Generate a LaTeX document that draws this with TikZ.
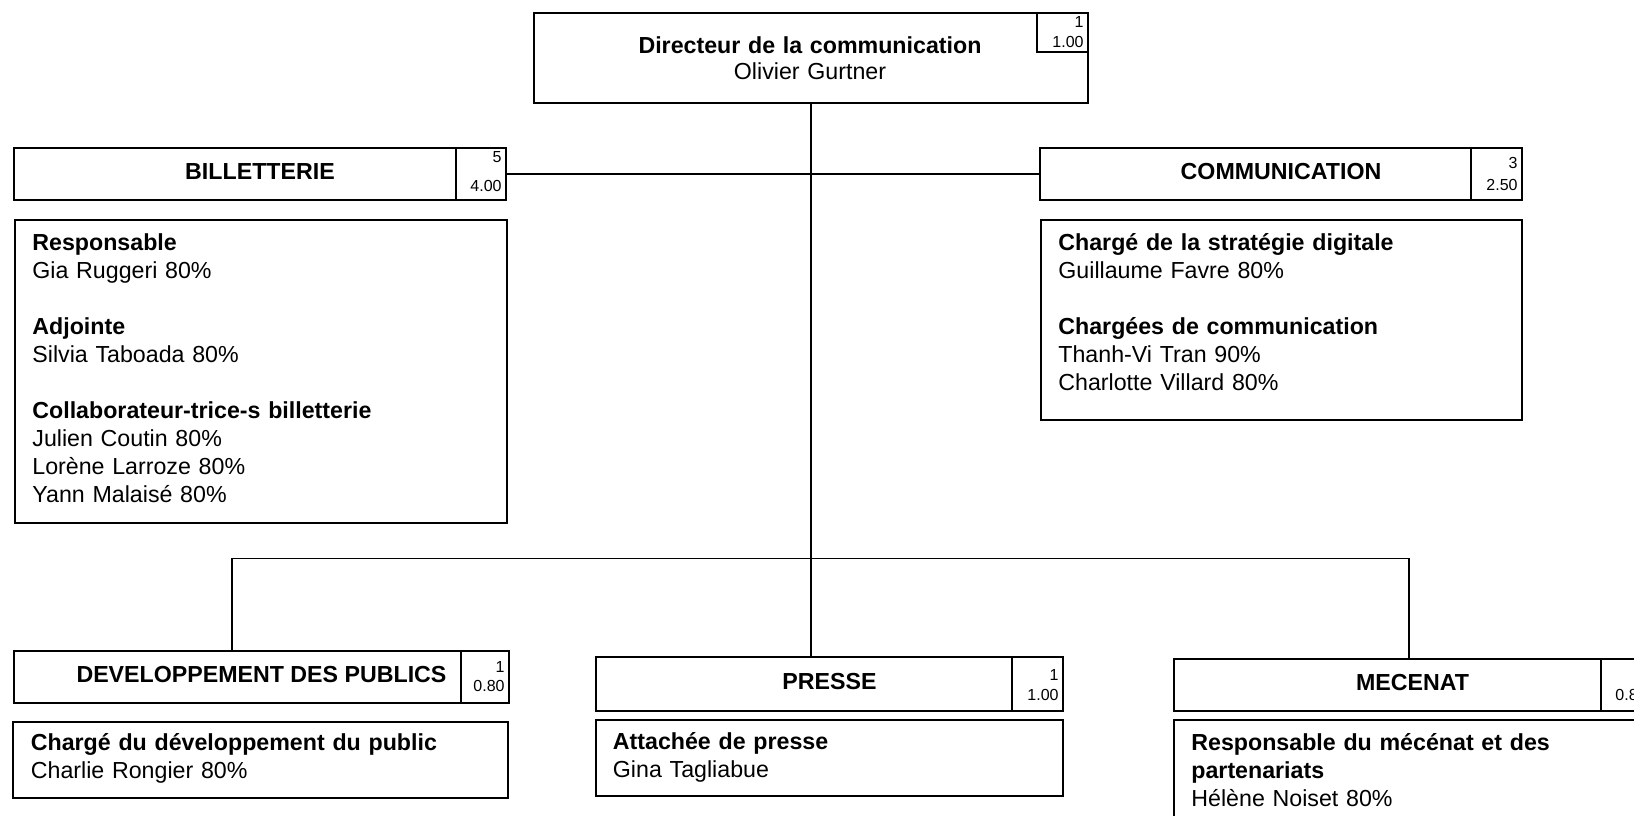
\documentclass[tikz,border=0pt]{standalone}
\usepackage{fontspec}
\setmainfont{Liberation Sans}
\begin{document}
\begin{tikzpicture}[x=0.5pt, y=-0.5pt,
  frame/.style={draw, line width=1pt, anchor=north west, inner sep=0pt},
  head/.style={frame, font=\fontsize{11.6}{14}\selectfont\bfseries, text height=8.5pt, text depth=3pt},
  badge/.style={draw, line width=1pt, anchor=north east, inner sep=0pt},
  num/.style={anchor=base east, inner sep=0pt, font=\fontsize{8}{9}\selectfont},
  body/.style={anchor=base west, inner sep=0pt, align=left, text width=215pt, font=\fontsize{11.6}{14}\selectfont},
  link/.style={line width=0.55pt}]
\useasboundingbox (0,0) rectangle (1634,815);
\clip (0,0) rectangle (1634,815);

\node[frame, minimum width=277pt, minimum height=45pt] (dir) at (533,12) {};
\node[anchor=base, inner sep=0pt, align=center, text width=260pt, font=\fontsize{11.6}{14}\selectfont] (dirT) at (810,53)
  {\textbf{Directeur de la communication}\\[-1pt] Olivier Gurtner};
\node[badge, minimum width=25.5pt, minimum height=19.5pt] (dirN) at (dir.north east) {};

\node[head, minimum width=246pt, minimum height=26pt] (bill) at (13,147) {BILLETTERIE};
\node[badge, minimum width=25pt, minimum height=26pt] (billN) at (bill.north east) {};
\node[head, minimum width=241pt, minimum height=26pt] (comm) at (1039,147) {COMMUNICATION};
\node[badge, minimum width=25.5pt, minimum height=26pt] (commN) at (comm.north east) {};
\node[head, minimum width=247.5pt, minimum height=26pt] (dev) at (13,650) {DEVELOPPEMENT DES PUBLICS};
\node[badge, minimum width=24pt, minimum height=26pt] (devN) at (dev.north east) {};
\node[head, minimum width=233.5pt, minimum height=27pt] (presse) at (595,656) {PRESSE};
\node[badge, minimum width=25.3pt, minimum height=27pt] (presseN) at (presse.north east) {};
\node[head, minimum width=238.5pt, minimum height=26pt] (mec) at (1173,658) {MECENAT};
\node[badge, minimum width=25pt, minimum height=26pt] (mecN) at (mec.north east) {};

\foreach \b/\t/\u/\p/\q in {dirN/1/1.00/15/35, billN/5/4.00/15/44, commN/3/2.50/21/43,
    devN/1/0.80/22/41, presseN/1/1.00/24/44, mecN/1/0.80/22/42}{
  \node[num] (\b-t) at ([shift={(-5,\p)}]\b.north east) {\t};
  \node[num] (\b-u) at ([shift={(-5,\q)}]\b.north east) {\u};
}

\node[frame, minimum width=246pt, minimum height=151.5pt] (billB) at (14,219) {};
\node[body] (billT) at (32,250) {\textbf{Responsable}\\ Gia Ruggeri 80\%\\[14pt]
  \textbf{Adjointe}\\ Silvia Taboada 80\%\\[14pt]
  \textbf{Collaborateur-trice-s billetterie}\\ Julien Coutin 80\%\\ Lorène Larroze 80\%\\ Yann Malaisé 80\%};
\node[frame, minimum width=240.5pt, minimum height=100pt] (commB) at (1040,219) {};
\node[body] (commT) at (1058,250) {\textbf{Chargé de la stratégie digitale}\\ Guillaume Favre 80\%\\[14pt]
  \textbf{Chargées de communication}\\ Thanh-Vi Tran 90\%\\ Charlotte Villard 80\%};
\node[frame, minimum width=247.5pt, minimum height=38pt] (devB) at (12,721) {};
\node[body] (devT) at (30.5,750) {\textbf{Chargé du développement du public}\\ Charlie Rongier 80\%};
\node[frame, minimum width=233.5pt, minimum height=38pt] (presseB) at (595,719) {};
\node[body] (presseT) at (612.5,749) {\textbf{Attachée de presse}\\ Gina Tagliabue};
\node[frame, minimum width=238.5pt, minimum height=65pt] (mecB) at (1173,719) {};
\node[body] (mecT) at (1191,750) {\textbf{Responsable du mécénat et des}\\ \textbf{partenariats}\\ Hélène Noiset 80\%};

\coordinate (fork) at (232,558.6);
\draw[link] (dir.south) -- (dir.south |- presse.north);
\draw[link] (bill.east) -- (comm.west);
\draw[link] (fork |- dev.north) -- (fork) -| (mecN.north -| 1409,0);
\end{tikzpicture}
\end{document}
